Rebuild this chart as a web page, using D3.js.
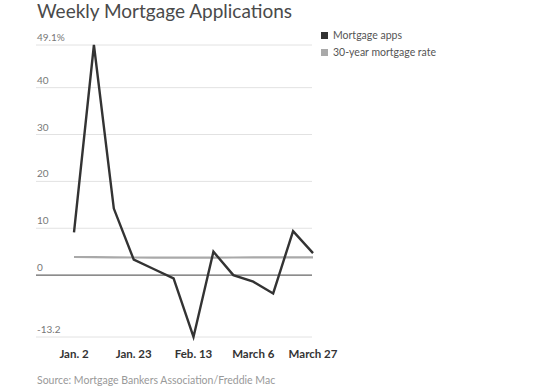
<!DOCTYPE html>
<html>
<head>
<meta charset="utf-8">
<script src="https://cdn.jsdelivr.net/npm/d3@7"></script>
<style>
  body { margin: 0; background: #fff; }
  svg { font-family: Lato, "Open Sans", sans-serif; }
</style>
</head>
<body>
<svg id="main" width="550" height="390"></svg>
<script>
const weeks = ["Jan. 2", "Jan. 9", "Jan. 16", "Jan. 23", "Jan. 30", "Feb. 6", "Feb. 13",
  "Feb. 20", "Feb. 27", "March 6", "March 13", "March 20", "March 27"];
const apps = [9.1, 49.1, 14.2, 3.3, 1.3, -0.7, -13.2, 5.0, 0.0, -1.4, -3.9, 9.4, 4.7];
const rate = [3.87, 3.83, 3.78, 3.76, 3.74, 3.72, 3.72, 3.74, 3.76, 3.77, 3.79, 3.80, 3.78];
const yTicks = [-13.2, 0, 10, 20, 30, 40, 49.1];
const xLabels = ["Jan. 2", "Jan. 23", "Feb. 13", "March 6", "March 27"];

const svg = d3.select("#main");

const x = d3.scalePoint().domain(weeks).range([74, 313]);
const y = d3.scaleLinear().domain([-13.2, 49.1]).range([337, 45]);

svg.append("text")
  .attr("x", 37).attr("y", 18)
  .attr("font-size", 19).attr("font-weight", 400).attr("fill", "#4a4a4a")
  .text("Weekly Mortgage Applications");

// gridlines + y labels
const yAxis = svg.append("g");
yAxis.selectAll("line")
  .data(yTicks)
  .enter()
  .append("line")
  .attr("x1", 36).attr("x2", 312)
  .attr("y1", d => y(d)).attr("y2", d => y(d))
  .attr("stroke", d => d === 0 ? "#666" : "#e2e2e2")
  .attr("stroke-width", d => d === 0 ? 1.2 : 1);
yAxis.selectAll("text")
  .data(yTicks)
  .enter()
  .append("text")
  .attr("x", 37).attr("y", d => y(d) - 4)
  .attr("font-size", 10).attr("fill", "#777")
  .text(d => d === 49.1 ? "49.1%" : d);

const line = d3.line().x((d, i) => x(weeks[i])).y(d => y(d));

svg.append("path")
  .datum(rate)
  .attr("d", line)
  .attr("fill", "none")
  .attr("stroke", "#a9a9a9")
  .attr("stroke-width", 2.2);

svg.append("path")
  .datum(apps)
  .attr("d", line)
  .attr("fill", "none")
  .attr("stroke", "#333")
  .attr("stroke-width", 2.4)
  .attr("stroke-linejoin", "miter");

// x labels
svg.append("g").selectAll("text")
  .data(xLabels)
  .enter()
  .append("text")
  .attr("x", d => x(d)).attr("y", 358)
  .attr("text-anchor", "middle")
  .attr("font-size", 11.5).attr("font-weight", 700).attr("fill", "#333")
  .text(d => d);

// legend
const legend = [
  { name: "Mortgage apps", color: "#333" },
  { name: "30-year mortgage rate", color: "#a9a9a9" }
];
const lg = svg.append("g").selectAll("g")
  .data(legend)
  .enter()
  .append("g")
  .attr("transform", (d, i) => `translate(321,${32 + i * 17})`);
lg.append("rect").attr("width", 7).attr("height", 7).attr("fill", d => d.color);
lg.append("text")
  .attr("x", 12).attr("y", 7)
  .attr("font-size", 10.5).attr("fill", "#555")
  .text(d => d.name);

svg.append("text")
  .attr("x", 37).attr("y", 384)
  .attr("font-size", 10.5).attr("fill", "#999")
  .text("Source: Mortgage Bankers Association/Freddie Mac");
</script>
</body>
</html>
